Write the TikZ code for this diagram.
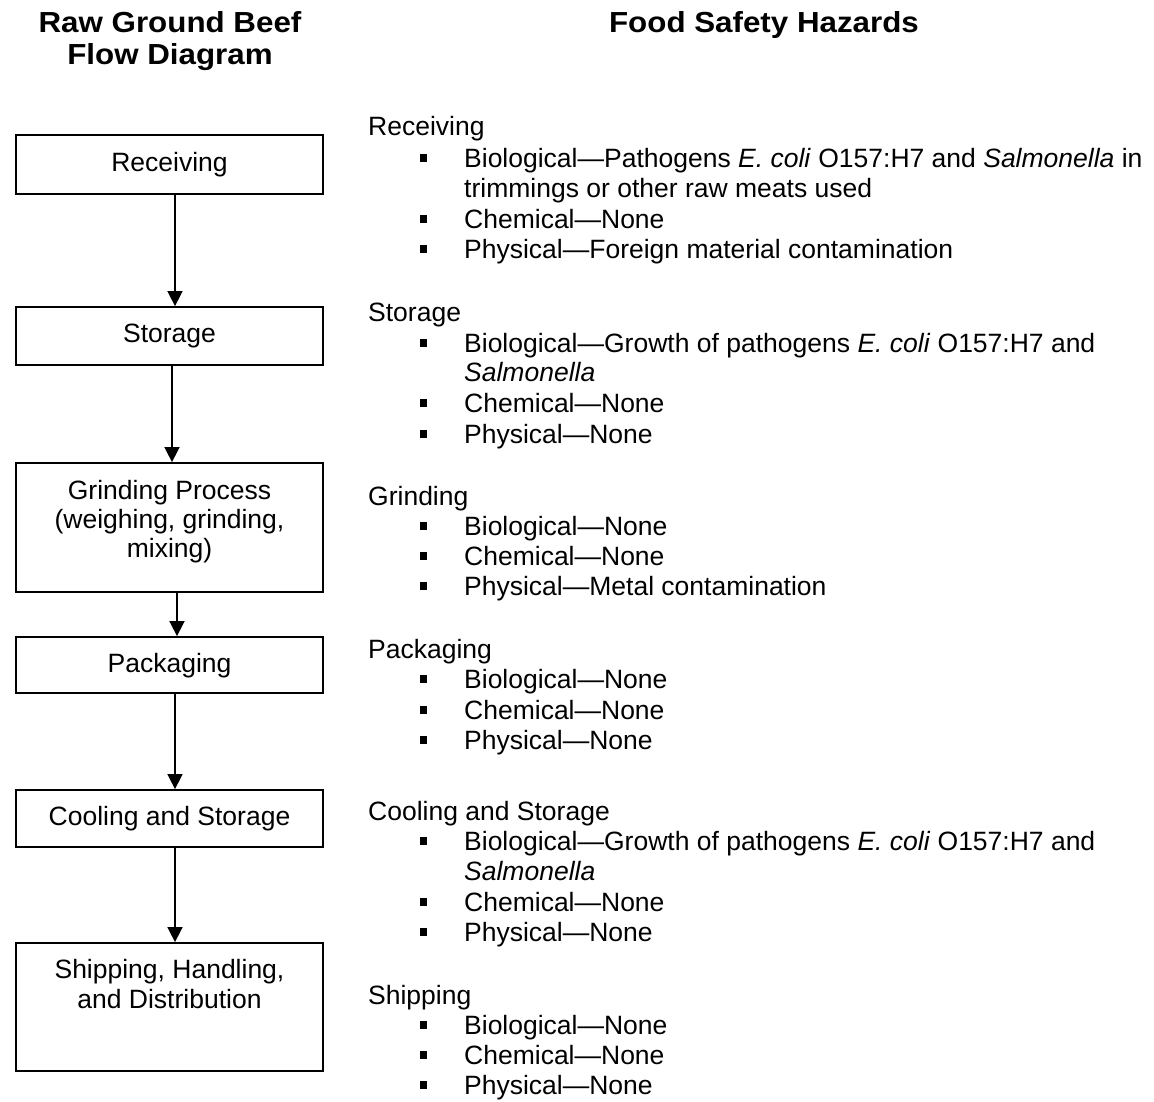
\documentclass[tikz,border=0pt]{standalone}
\usepackage{fontspec}
\setmainfont{Liberation Sans}
\newfontfamily\titlefont{Liberation Sans}[FakeStretch=1.08]
\usetikzlibrary{arrows.meta}
\tikzset{
  stagebox/.style={draw, line width=1.8pt, rectangle, inner sep=0pt, minimum width=307pt},
  boxlabel/.style={anchor=base, inner sep=0pt, font=\fontsize{26.5}{30}\selectfont},
  headtxt/.style={anchor=base west, inner sep=0pt, font=\fontsize{26.5}{30}\selectfont},
  itemtxt/.style={anchor=base west, inner sep=0pt, font=\fontsize{26.5}{30}\selectfont},
  bul/.style={fill=black, rectangle, inner sep=0pt, minimum size=7.5pt},
  titletxt/.style={anchor=base, inner sep=0pt, font=\titlefont\bfseries\fontsize{29}{32}\selectfont},
  flow/.style={line width=1.6pt, -{Triangle[length=15pt,width=15pt]}}
}
\newcommand{\hazitem}[3]{%
  \node[bul] (#1b) at (423.5,{#2-9}) {};
  \node[itemtxt] (#1) at (464,#2) {#3};}
\begin{document}
\begin{tikzpicture}[x=1pt,y=-1pt]
\useasboundingbox (0,0) rectangle (1154,1101);
% titles
\node[titletxt] (t1) at (170,32) {Raw Ground Beef};
\node[titletxt] (t2) at (170,64) {Flow Diagram};
\node[titletxt] (t3) at (764,32) {Food Safety Hazards};
% boxes
\node[stagebox, minimum height=59pt] (rec) at (169.5,164.5) {};
\node[stagebox, minimum height=58pt] (sto) at (169.5,336) {};
\node[stagebox, minimum height=129pt] (gri) at (169.5,527.5) {};
\node[stagebox, minimum height=56pt] (pac) at (169.5,665) {};
\node[stagebox, minimum height=57pt] (coo) at (169.5,818.5) {};
\node[stagebox, minimum height=128pt] (shi) at (169.5,1007) {};
% box labels
\node[boxlabel] (recl) at (169.5,171) {Receiving};
\node[boxlabel] (stol) at (169.5,342) {Storage};
\node[boxlabel] (gril1) at (169.5,499) {Grinding Process};
\node[boxlabel] (gril2) at (169.5,528) {(weighing, grinding,};
\node[boxlabel] (gril3) at (169.5,557) {mixing)};
\node[boxlabel] (pacl) at (169.5,672) {Packaging};
\node[boxlabel] (cool) at (169.5,825) {Cooling and Storage};
\node[boxlabel] (shil1) at (169.5,978) {Shipping, Handling,};
\node[boxlabel] (shil2) at (169.5,1008) {and Distribution};
% arrows
\draw[flow] ([xshift=5.5pt]rec.south) -- ([xshift=5.5pt]sto.north);
\draw[flow] ([xshift=2.5pt]sto.south) -- ([xshift=2.5pt]gri.north);
\draw[flow] ([xshift=7.5pt]gri.south) -- ([xshift=7.5pt]pac.north);
\draw[flow] ([xshift=5.5pt]pac.south) -- ([xshift=5.5pt]coo.north);
\draw[flow] ([xshift=5.5pt]coo.south) -- ([xshift=5.5pt]shi.north);
% hazards: receiving
\node[headtxt] (hrec) at (368,135) {Receiving};
\hazitem{rbio}{167}{Biological—Pathogens \textit{E. coli} O157:H7 and \textit{Salmonella} in}
\node[itemtxt] (rbio2) at (464,197) {trimmings or other raw meats used};
\hazitem{rche}{228}{Chemical—None}
\hazitem{rphy}{258}{Physical—Foreign material contamination}
% storage
\node[headtxt] (hsto) at (368,321) {Storage};
\hazitem{sbio}{352}{Biological—Growth of pathogens \textit{E. coli} O157:H7 and}
\node[itemtxt] (sbio2) at (464,381) {\textit{Salmonella}};
\hazitem{sche}{412}{Chemical—None}
\hazitem{sphy}{443}{Physical—None}
% grinding
\node[headtxt] (hgri) at (368,505) {Grinding};
\hazitem{gbio}{535}{Biological—None}
\hazitem{gche}{565}{Chemical—None}
\hazitem{gphy}{595}{Physical—Metal contamination}
% packaging
\node[headtxt] (hpac) at (368,658) {Packaging};
\hazitem{pbio}{688}{Biological—None}
\hazitem{pche}{719}{Chemical—None}
\hazitem{pphy}{749}{Physical—None}
% cooling and storage
\node[headtxt] (hcoo) at (368,820) {Cooling and Storage};
\hazitem{cbio}{850}{Biological—Growth of pathogens \textit{E. coli} O157:H7 and}
\node[itemtxt] (cbio2) at (464,880) {\textit{Salmonella}};
\hazitem{cche}{911}{Chemical—None}
\hazitem{cphy}{941}{Physical—None}
% shipping
\node[headtxt] (hshi) at (368,1004) {Shipping};
\hazitem{hbio}{1034}{Biological—None}
\hazitem{hche}{1064}{Chemical—None}
\hazitem{hphy}{1094}{Physical—None}
\end{tikzpicture}
\end{document}
